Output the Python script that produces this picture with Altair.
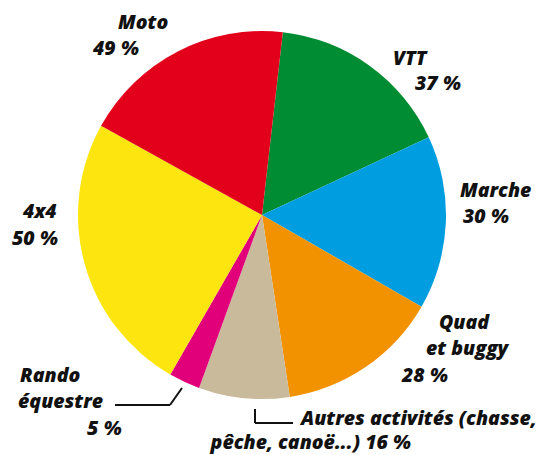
import math
import altair as alt
import pandas as pd

# ---- data ----
activities = ["VTT", "Marche", "Quad et buggy", "Autres activités", "Rando équestre", "4x4", "Moto"]
percent = [37, 30, 28, 16, 5, 50, 49]
# share of the pie each slice occupies in the drawing (percent of the full circle)
drawn_share = [16.25, 15.25, 14.28, 7.97, 2.75, 24.75, 18.75]
colors = ["#008C32", "#009EE0", "#F39200", "#C9BA9B", "#E2007A", "#FDE60F", "#E2001A"]

df = pd.DataFrame({
    "activity": activities,
    "percent": percent,
    "share": drawn_share,
    "order": list(range(len(activities))),
})

W, H = 529, 447
CX, CY, R = 254, 207, 184
start = math.radians(6.5)

pie = alt.Chart(df).mark_arc(outerRadius=R).encode(
    theta=alt.Theta("share:Q", stack=True,
                    scale=alt.Scale(range=[start, start + 2 * math.pi])),
    color=alt.Color("activity:N", scale=alt.Scale(domain=activities, range=colors), legend=None),
    order=alt.Order("order:Q"),
    x=alt.value(CX),
    y=alt.value(CY),
)

FONT = "Open Sans"
FS = 19.5


def line(text, x, y, align="left"):
    return alt.Chart(pd.DataFrame({"t": [text]})).mark_text(
        font=FONT, fontSize=FS, fontWeight=800, fontStyle="italic",
        align=align, baseline="alphabetic", color="#111111",
    ).encode(text="t:N", x=alt.value(x - 8), y=alt.value(y - 8))


p = {a: v for a, v in zip(activities, percent)}
labels = [
    line("Moto", 118, 29), line(f"{p['Moto']} %", 93, 55),
    line("VTT", 393, 65), line(f"{p['VTT']} %", 415, 90),
    line("Marche", 460, 197), line(f"{p['Marche']} %", 463, 223),
    line("Quad", 439, 329), line("et buggy", 426, 355), line(f"{p['Quad et buggy']} %", 402, 382),
    line("Autres activités (chasse,", 301, 425),
    line(f"pêche, canoë...) {p['Autres activités']} %", 411, 449, align="right"),
    line("Rando", 20, 382), line("équestre", 18, 408), line(f"{p['Rando équestre']} %", 87, 435),
    line("4x4", 23, 218), line(f"{p['4x4']} %", 12, 245),
]


def seg(x1, y1, x2, y2):
    return alt.Chart(pd.DataFrame({"a": [0]})).mark_rule(color="#111111", strokeWidth=2).encode(
        x=alt.value(x1 - 8), y=alt.value(y1 - 8), x2=alt.value(x2 - 8), y2=alt.value(y2 - 8)
    )


leaders = [
    seg(115, 405, 170, 405), seg(170, 405, 182, 388),
    seg(255, 409, 255, 423), seg(255, 423, 293, 423),
]

chart = alt.layer(pie, *labels, *leaders).properties(
    width=W, height=H, autosize=alt.AutoSizeParams(type="none"), padding=0
).configure_view(stroke=None)

chart.save("out.html", embed_options={"renderer": "svg", "actions": False})
